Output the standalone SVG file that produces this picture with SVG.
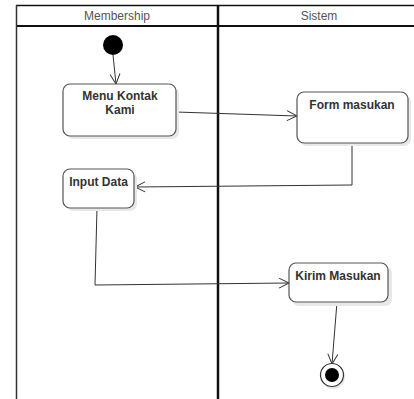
<svg xmlns="http://www.w3.org/2000/svg" width="414" height="399" viewBox="0 0 414 399">
<style>
.lane{fill:none;stroke:#111;}
.hdr{font-family:"Liberation Sans",Arial,sans-serif;font-size:12px;fill:#555;text-anchor:middle;}
.box{fill:#fff;stroke:#555;stroke-width:1.2;}
.shadow{fill:#e8e8e8;stroke:none;}
.lbl{font-family:"Liberation Sans",Arial,sans-serif;font-size:12px;font-weight:bold;fill:#333;text-anchor:middle;}
.conn{fill:none;stroke:#333;stroke-width:1;marker-end:url(#open);}
</style>
<defs>
<marker id="open" viewBox="0 0 12 12" refX="11" refY="6" markerWidth="12" markerHeight="12" markerUnits="userSpaceOnUse" orient="auto">
<path d="M1,1 L11,6 L1,11" fill="none" stroke="#333" stroke-width="1"/>
</marker>
</defs>
<rect width="414" height="399" fill="#fff"/>
<g id="lanes">
<line class="lane" x1="16" y1="5.5" x2="414" y2="5.5" stroke-width="1.5"/>
<line class="lane" x1="16" y1="26" x2="414" y2="26" stroke-width="2"/>
<line class="lane" x1="16.5" y1="5" x2="16.5" y2="399" stroke-width="1.5" style="stroke:#333"/>
<line class="lane" x1="218" y1="5" x2="218" y2="399" stroke-width="2.5"/>
<text class="hdr" x="117" y="20">Membership</text>
<text class="hdr" x="319" y="20">Sistem</text>
</g>
<g id="connectors">
<line class="conn" x1="113" y1="55" x2="116" y2="84"/>
<line class="conn" x1="176" y1="112" x2="297" y2="116"/>
<polyline class="conn" points="352,143 352,185 135,187"/>
<polyline class="conn" points="97,208 95,285 289,283"/>
<line class="conn" x1="337" y1="302" x2="332" y2="364"/>
</g>
<g id="start">
<circle cx="113" cy="45" r="10" fill="#000"/>
</g>
<g id="menu-kontak-kami">
<rect class="shadow" x="66" y="87" width="113" height="52" rx="7"/>
<rect class="box" x="63" y="84" width="113" height="52" rx="7"/>
<text class="lbl" x="120" y="100">Menu Kontak</text>
<text class="lbl" x="120" y="114">Kami</text>
</g>
<g id="form-masukan">
<rect class="shadow" x="300" y="95" width="111" height="51" rx="7"/>
<rect class="box" x="297" y="92" width="111" height="51" rx="7"/>
<text class="lbl" x="352" y="109">Form masukan</text>
</g>
<g id="input-data">
<rect class="shadow" x="66" y="172" width="71" height="39" rx="7"/>
<rect class="box" x="63" y="169" width="71" height="39" rx="7"/>
<text class="lbl" x="98.5" y="186">Input Data</text>
</g>
<g id="kirim-masukan">
<rect class="shadow" x="292" y="266" width="100" height="40" rx="7"/>
<rect class="box" x="289" y="263" width="99" height="39" rx="7"/>
<text class="lbl" x="338" y="280">Kirim Masukan</text>
</g>
<g id="end">
<circle cx="333" cy="377" r="12" fill="#e8e8e8"/>
<circle cx="332" cy="375" r="11.5" fill="#fff" stroke="#333" stroke-width="1.2"/>
<circle cx="332" cy="375" r="7" fill="#000"/>
</g>
</svg>
